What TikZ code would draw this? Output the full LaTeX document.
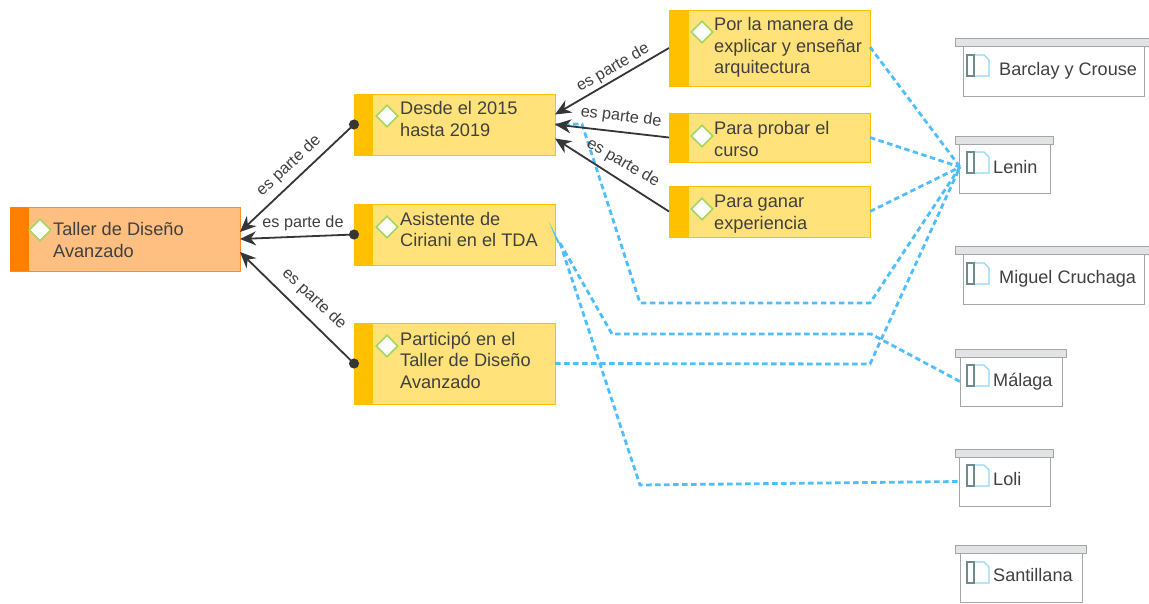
\documentclass[tikz,border=0pt]{standalone}
\usepackage{fontspec}
\setmainfont{Liberation Sans}
\usetikzlibrary{arrows.meta,shapes.geometric}
\definecolor{txt}{HTML}{404040}
\definecolor{ybarc}{HTML}{FFC000}
\definecolor{yfill}{HTML}{FFE27A}
\definecolor{obarc}{HTML}{FF7F00}
\definecolor{ofill}{HTML}{FFBF80}
\definecolor{oline}{HTML}{FF8C26}
\definecolor{link}{HTML}{4DBEFF}
\definecolor{dia}{HTML}{A4D65E}
\definecolor{resline}{HTML}{A6A6A6}
\definecolor{restop}{HTML}{E2E3E4}
\definecolor{icondark}{HTML}{6F8C8C}
\definecolor{iconlight}{HTML}{8FD8FA}
\definecolor{reldark}{HTML}{363636}
\tikzset{
  ybox/.style={draw=ybarc,fill=yfill,line width=1pt,inner sep=0pt,outer sep=0pt},
  obox/.style={draw=oline,fill=ofill,line width=1pt,inner sep=0pt,outer sep=0pt},
  marker/.style={diamond,aspect=1,draw=dia,fill=white,line width=1.6pt,minimum size=22pt,inner sep=0pt},
  topictext/.style={anchor=west,align=left,text=txt,inner sep=0pt,font=\fontsize{18.2}{21.5}\selectfont},
  restext/.style={anchor=west,text=txt,inner sep=0pt,font=\fontsize{18.1}{21}\selectfont},
  restopbar/.style={draw=resline,fill=restop,line width=1pt,inner sep=0pt,outer sep=0pt},
  resbody/.style={draw=resline,fill=white,line width=1pt,inner sep=0pt,outer sep=0pt},
  rel/.style={draw=reldark,line width=1.8pt,-{Stealth[length=16pt,width=14pt]}},
  relb/.style={rel,{Circle[length=10pt]}-{Stealth[length=16pt,width=14pt]},shorten <=-5pt},
  rellabel/.style={text=txt,inner sep=0pt,font=\fontsize{16.2}{19}\selectfont},
  assoc/.style={draw=link,line width=2.8pt,dash pattern=on 5.5pt off 3.5pt},
}
\newcommand{\yellowbar}[3]{\fill[ybarc] (#1,#2) rectangle ++(19,#3);}
\newcommand{\docicon}[2]{%
  \draw[iconlight,line width=1.2pt] (#1+7,#2) -- (#1+17,#2) -- (#1+22,#2+5) -- (#1+22,#2+21) -- (#1+7,#2+21);
  \draw[icondark,line width=1.2pt] (#1+7,#2) -- (#1,#2) -- (#1,#2+21) -- (#1+7,#2+21) -- cycle;
}
\begin{document}
\begin{tikzpicture}[x=1pt,y=-1pt]
\useasboundingbox (0,0) rectangle (1149,603);

% main topic
\node[obox,minimum width=230pt,minimum height=64pt] (taller) at (125,239) {};
\fill[obarc] (10,207) rectangle (29,271);
\node[marker] (mtaller) at (40,230) {};
\node[topictext] (ttaller) at (53,240) {Taller de Diseño\\Avanzado};

% second level
\node[ybox,minimum width=201pt,minimum height=61pt] (desde) at (454.5,124.5) {};
\yellowbar{354}{94}{61}
\node[marker] (mdesde) at (387,116) {};
\node[topictext] (tdesde) at (400,119) {Desde el 2015\\hasta 2019};

\node[ybox,minimum width=201pt,minimum height=61pt] (asist) at (454.5,234.5) {};
\yellowbar{354}{204}{61}
\node[marker] (masist) at (387,227) {};
\node[topictext] (tasist) at (400,229.5) {Asistente de\\Ciriani en el TDA};

\node[ybox,minimum width=201pt,minimum height=81pt] (partic) at (454.5,363.5) {};
\yellowbar{354}{323}{81}
\node[marker] (mpartic) at (387,346) {};
\node[topictext] (tpartic) at (400,360) {Participó en el\\Taller de Diseño\\Avanzado};

% third level
\node[ybox,minimum width=201pt,minimum height=76pt] (manera) at (769.5,48) {};
\fill[ybarc] (669,10) rectangle (689,86);
\node[marker] (mmanera) at (702,32) {};
\node[topictext] (tmanera) at (714,47.5) {Por la manera de\\explicar y enseñar\\arquitectura};

\node[ybox,minimum width=201pt,minimum height=49pt] (probar) at (769.5,137.5) {};
\fill[ybarc] (669,113) rectangle (689,162);
\node[marker] (mprobar) at (702,136) {};
\node[topictext] (tprobar) at (714,139) {Para probar el\\curso};

\node[ybox,minimum width=201pt,minimum height=51pt] (ganar) at (769.5,211.5) {};
\fill[ybarc] (669,186) rectangle (689,237);
\node[marker] (mganar) at (702,209) {};
\node[topictext] (tganar) at (714,214) {Para ganar\\experiencia};

% resources
\node[resbody,minimum width=181pt,minimum height=50pt] (barclay) at (1053.5,71) {};
\node[restopbar,minimum width=194pt,minimum height=8pt] (barclaytop) at (1052,42) {};
\docicon{967}{55}
\node[restext] (tbarclay) at (999,71) {Barclay y Crouse};

\node[resbody,minimum width=91pt,minimum height=49pt] (lenin) at (1004.5,168.5) {};
\node[restopbar,minimum width=98pt,minimum height=8pt] (lenintop) at (1004,140) {};
\docicon{967}{152}
\node[restext] (tlenin) at (993,167) {Lenin};

\node[resbody,minimum width=181pt,minimum height=50pt] (miguel) at (1053.5,279) {};
\node[restopbar,minimum width=194pt,minimum height=8pt] (migueltop) at (1052,250) {};
\docicon{967}{263}
\node[restext] (tmiguel) at (999,279) {Miguel Cruchaga};

\node[resbody,minimum width=102pt,minimum height=49pt] (malaga) at (1011,381.5) {};
\node[restopbar,minimum width=111pt,minimum height=8pt] (malagatop) at (1010.5,353) {};
\docicon{967}{365}
\node[restext] (tmalaga) at (993,382) {Málaga};

\node[resbody,minimum width=91pt,minimum height=49pt] (loli) at (1004.5,481.5) {};
\node[restopbar,minimum width=98pt,minimum height=8pt] (lolitop) at (1004,453) {};
\docicon{967}{465}
\node[restext] (tloli) at (993,479) {Loli};

\node[resbody,minimum width=122pt,minimum height=49pt] (santi) at (1021,577.5) {};
\node[restopbar,minimum width=131pt,minimum height=8pt] (santitop) at (1020.5,549) {};
\docicon{967}{562}
\node[restext] (tsanti) at (993,575) {Santillana};

% bend points
\coordinate (leninin) at (960,167);
\coordinate (b1a) at (582,124);
\coordinate (b1b) at (640,303);
\coordinate (b1c) at (870,303);
\coordinate (b2a) at (560,243);
\coordinate (b2b) at (612,334);
\coordinate (b2c) at (871,334);
\coordinate (b3a) at (640,485);
\coordinate (b4a) at (870,364);
\coordinate (asistin) at (549,222);

% associations
\fill[link] (asistin) -- (b2a) -- ([xshift=-2.5pt]b2a) -- cycle;
\draw[assoc] (desde.east) -- (b1a) -- (b1b) -- (b1c) -- (leninin);
\draw[assoc] (b2a) -- (b2b) -- (b2c) -- (malaga.west);
\draw[assoc] (b2a) -- (b3a) -- (loli.west);
\draw[assoc] (partic.east) -- (b4a) -- (leninin);
\draw[assoc] ([yshift=1pt]manera.east) -- (leninin);
\draw[assoc] (probar.east) -- (leninin);
\draw[assoc] (ganar.east) -- (leninin);

% relations
\draw[relb] (desde.west) -- ([yshift=7pt]taller.east);
\draw[relb] (asist.west) -- (taller.east);
\draw[relb] (partic.west) -- ([yshift=-13pt]taller.east);
\draw[rel] (manera.west) -- ([yshift=10pt]desde.east);
\draw[rel] (probar.west) -- (desde.east);
\draw[rel] (ganar.west) -- ([yshift=-14pt]desde.east);

% relation labels
\node[rellabel,rotate=43] (l1) at (289,166) {es parte de};
\node[rellabel] (l2) at (303,223.5) {es parte de};
\node[rellabel,rotate=-43] (l3) at (314,299) {es parte de};
\node[rellabel,rotate=30] (l4) at (613,68) {es parte de};
\node[rellabel,rotate=-7] (l5) at (621,117) {es parte de};
\node[rellabel,rotate=-30] (l6) at (623,163) {es parte de};
\end{tikzpicture}
\end{document}
